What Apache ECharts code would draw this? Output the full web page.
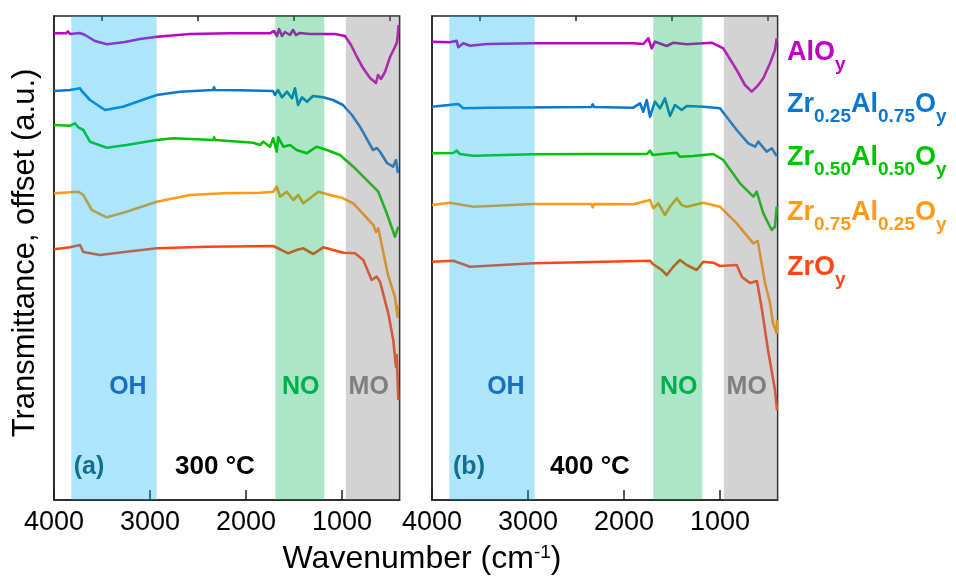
<!DOCTYPE html>
<html>
<head>
<meta charset="utf-8">
<script src="https://cdn.jsdelivr.net/npm/echarts@6/dist/echarts.min.js"></script>
<style>
html, body { margin: 0; padding: 0; background: #fff; }
#chart { width: 956px; height: 583px; }
</style>
</head>
<body>
<div id="chart"></div>
<script>
// wavenumber (cm-1), transmittance with offset (a.u.)
var alo300 = [[4000,46.67],[3875,46.67],[3854,46.85],[3833,46.6],[3729,46.7],[3677,46.5],[3573,45.9],[3448,45.57],[3260,45.8],[3104,46.1],[2927,46.33],[2583,46.6],[2167,46.67],[1750,46.67],[1708,46.9],[1677,46.4],[1656,47.1],[1625,46.4],[1594,46.8],[1542,46.5],[1510,47.0],[1479,46.5],[1438,46.7],[1333,46.6],[1073,46.6],[969,46.4],[906,45.5],[844,44.3],[781,43.2],[708,42.2],[646,41.7],[625,42.5],[594,42.1],[552,42.8],[500,44.3],[448,45.3],[427,45.8],[417,46.7],[411,47.5]];
var zr25_300 = [[4000,40.9],[3833,41.0],[3729,41.17],[3711,40.9],[3625,40.0],[3469,39.0],[3281,39.33],[3104,39.93],[2930,40.5],[2688,40.83],[2344,41.0],[2333,41.27],[2323,41.0],[2063,40.97],[1719,40.9],[1698,40.5],[1667,41.0],[1625,40.27],[1573,40.83],[1521,40.17],[1490,41.17],[1458,39.5],[1417,40.27],[1365,39.83],[1302,40.4],[1198,40.27],[1094,40.0],[990,39.5],[896,38.5],[813,37.33],[677,35.0],[635,35.2],[604,34.83],[531,33.7],[469,33.33],[438,34.0],[417,32.7]];
var zr50_300 = [[4000,37.5],[3833,37.43],[3781,37.67],[3747,37.27],[3695,37.0],[3625,35.83],[3451,35.23],[3243,35.5],[2930,36.0],[2757,36.17],[2341,36.0],[2333,36.27],[2323,36.0],[1924,35.73],[1854,35.5],[1820,35.83],[1750,35.33],[1716,36.17],[1680,34.83],[1664,36.27],[1611,35.33],[1542,35.5],[1472,35.0],[1368,34.67],[1264,35.33],[1159,35.0],[1021,34.5],[882,33.33],[674,31.33],[622,30.83],[604,31.0],[534,28.67],[448,26.33],[413,27.33]];
var zr75_300 = [[4000,30.67],[3747,30.83],[3695,30.5],[3607,29.0],[3451,28.27],[3243,28.83],[2930,29.83],[2583,30.5],[2236,30.67],[1854,30.73],[1716,30.83],[1680,31.33],[1646,30.33],[1576,30.83],[1507,30.0],[1455,30.5],[1403,29.67],[1333,30.17],[1247,30.83],[1125,30.5],[1003,30.23],[882,29.67],[674,27.5],[646,26.8],[622,27.17],[521,22.5],[448,20.3],[422,18.3],[417,19.5]];
var zro_300 = [[4000,25.07],[3833,25.27],[3729,25.5],[3695,24.8],[3521,24.5],[3243,24.83],[2930,25.17],[2409,25.33],[1716,25.4],[1559,24.67],[1472,25.0],[1403,25.17],[1299,24.6],[1195,25.27],[986,24.73],[865,24.67],[778,24.0],[691,22.0],[639,22.33],[604,21.83],[518,18.67],[466,16.0],[438,13.33],[430,14.5],[413,10.0]];

var alo400 = [[4000,45.83],[3813,45.77],[3743,45.93],[3726,45.27],[3674,45.67],[3604,45.43],[3430,45.6],[2945,45.67],[2320,45.67],[1903,45.67],[1799,45.6],[1747,46.17],[1711,45.17],[1677,45.83],[1555,45.4],[1486,45.73],[1347,45.57],[1086,45.73],[966,45.17],[826,43.0],[740,41.5],[670,40.83],[635,41.17],[601,41.5],[549,42.17],[479,43.67],[427,45.0],[409,46.17]];
var zr25_400 = [[4000,39.33],[3726,39.6],[3674,39.17],[3430,39.23],[2340,39.3],[2326,39.57],[2312,39.3],[1903,39.23],[1833,39.67],[1799,38.83],[1764,40.0],[1729,38.33],[1677,39.83],[1625,39.17],[1573,40.17],[1521,38.4],[1469,39.5],[1399,39.0],[1347,39.4],[1174,39.33],[1000,39.17],[826,37.0],[705,35.67],[635,35.33],[601,35.83],[514,34.83],[462,35.17],[409,34.4]];
var zr50_400 = [[4000,34.67],[3780,34.7],[3743,34.93],[3710,34.6],[3570,34.43],[2945,34.57],[2340,34.6],[2326,34.77],[2312,34.6],[1760,34.6],[1729,34.93],[1700,34.5],[1600,34.6],[1451,34.73],[1417,34.33],[1278,34.4],[1070,34.6],[966,34.0],[792,31.67],[653,30.33],[618,30.83],[549,28.67],[462,27.0],[427,27.33],[409,29.33]];
var zr75_400 = [[4000,29.5],[3813,29.73],[3570,29.33],[2945,29.6],[2340,29.6],[2326,29.27],[2312,29.6],[1903,29.57],[1729,30.0],[1695,29.17],[1643,29.67],[1573,28.5],[1521,29.33],[1451,30.17],[1399,29.5],[1347,29.33],[1174,29.73],[1000,29.33],[826,27.67],[653,25.67],[607,25.9],[531,21.7],[479,19.7],[448,17.7],[410,16.7],[405,18.0]];
var zro_400 = [[4000,23.83],[3778,23.93],[3604,23.33],[2945,23.67],[1729,23.93],[1700,23.6],[1607,23.0],[1555,22.5],[1486,23.33],[1417,24.0],[1347,23.5],[1243,23.0],[1174,23.83],[1070,23.73],[1000,23.4],[826,23.5],[771,22.3],[688,21.7],[615,21.9],[562,19.0],[500,15.0],[427,11.0],[406,9.0]];

var sampleNames = ['AlOy', 'Zr0.25Al0.75Oy', 'Zr0.50Al0.50Oy', 'Zr0.75Al0.25Oy', 'ZrOy'];
var majorTicks = [4000, 3000, 2000, 1000];
var minorTicks = [3500, 2500, 1500, 500];
var bandOH = [3820, 2930];
var bandNO = [1695, 1185];
var bandMO = [960, 400];

var lineColors = ['#c000c0', '#0a78d0', '#00c400', '#ff9a14', '#ff4614'];
var font = 'Liberation Sans, Arial, sans-serif';

var chart = echarts.init(document.getElementById('chart'));

function xAxisFor(grid, ticks, len, main) {
	return {
		type: 'value', gridIndex: grid, min: 400, max: 4000, inverse: true,
		axisLine: { show: main, lineStyle: { color: '#222', width: 1.5 } },
		axisTick: { show: true, inside: true, length: len, customValues: ticks, lineStyle: { color: '#222', width: 1.5 } },
		axisLabel: {
			show: main, customValues: majorTicks, margin: 9, color: '#000', fontSize: 27, fontFamily: font,
			formatter: function (v) { return String(v); }
		},
		splitLine: { show: false }
	};
}

function yAxisFor(grid) {
	return {
		type: 'value', gridIndex: grid, min: 0, max: 48.4,
		axisLine: { show: true, lineStyle: { color: '#222', width: 1.5 } },
		axisTick: { show: false }, axisLabel: { show: false }, splitLine: { show: false }
	};
}

function bandSeries(idx) {
	var lbl = function (name, wn, color) {
		return { name: name, coord: [wn, 11.3], label: { color: color } };
	};
	return {
		type: 'line', xAxisIndex: idx, yAxisIndex: idx, data: [], z: 5, silent: true,
		markArea: {
			silent: true, z: 10,
			data: [
				[{ xAxis: bandOH[0], itemStyle: { color: 'rgba(0,176,240,0.32)' } }, { xAxis: bandOH[1] }],
				[{ xAxis: bandNO[0], itemStyle: { color: 'rgba(0,176,80,0.32)' } }, { xAxis: bandNO[1] }],
				[{ xAxis: bandMO[0], itemStyle: { color: 'rgba(128,128,128,0.35)' } }, { xAxis: bandMO[1] }]
			]
		},
		markPoint: {
			silent: true, z: 11, symbol: 'circle', symbolSize: 0,
			label: { show: true, position: 'inside', formatter: '{b}', fontSize: 25, fontWeight: 'bold', fontFamily: font },
			data: [lbl('OH', 3230, '#1a70c0'), lbl('NO', 1430, '#00b050'), lbl('MO', 722, '#7f7f7f')]
		}
	};
}

var panels = [
	[alo300, zr25_300, zr50_300, zr75_300, zro_300],
	[alo400, zr25_400, zr50_400, zr75_400, zro_400]
];

var series = [];
panels.forEach(function (sets, p) {
	sets.forEach(function (d, i) {
		series.push({
			name: sampleNames[i] + (p ? ' 400' : ' 300'), type: 'line',
			xAxisIndex: p, yAxisIndex: p, data: d,
			symbol: 'none', smooth: false, z: 2,
			lineStyle: { width: 2.6, color: lineColors[i], join: 'round' }
		});
	});
	series.push(bandSeries(p));
});

var rich = function (color) {
	return {
		m: { fontSize: 27, fontWeight: 'bold', fill: color, fontFamily: font, lineHeight: 27 },
		s: { fontSize: 19, fontWeight: 'bold', fill: color, fontFamily: font, lineHeight: 19, padding: [24, 0, 0, 0] }
	};
};

var legendRows = [
	'{m|AlO}{s|y}',
	'{m|Zr}{s|0.25}{m|Al}{s|0.75}{m|O}{s|y}',
	'{m|Zr}{s|0.50}{m|Al}{s|0.50}{m|O}{s|y}',
	'{m|Zr}{s|0.75}{m|Al}{s|0.25}{m|O}{s|y}',
	'{m|ZrO}{s|y}'
];
var legendY = [53, 105, 158, 213, 268];

var graphic = [];
legendRows.forEach(function (t, i) {
	graphic.push({
		type: 'text', x: 787, y: legendY[i],
		style: { text: t, rich: rich(lineColors[i]), align: 'left', verticalAlign: 'middle' }
	});
});

graphic.push(
	{ type: 'text', x: 25, y: 253, rotation: Math.PI / 2,
	  style: { text: 'Transmittance, offset (a.u.)', fill: '#000', fontSize: 31, fontFamily: font, align: 'center', verticalAlign: 'middle' } },
	{ type: 'text', x: 422, y: 559,
	  style: { text: '{m|Wavenumber (cm}{p|-1}{m|)}', align: 'center', verticalAlign: 'middle',
	    rich: {
	    	m: { fontSize: 32, fill: '#000', fontFamily: font, lineHeight: 32 },
	    	p: { fontSize: 19, fill: '#000', fontFamily: font, lineHeight: 19, padding: [0, 0, 13, 0] }
	    } } },
	{ type: 'text', x: 89, y: 467, style: { text: '(a)', fill: '#1d4f61', fontSize: 25, fontWeight: 'bold', fontFamily: font, align: 'center', verticalAlign: 'middle' } },
	{ type: 'text', x: 215, y: 467, style: { text: '300 °C', fill: '#000', fontSize: 26, fontWeight: 'bold', fontFamily: font, align: 'center', verticalAlign: 'middle' } },
	{ type: 'text', x: 469, y: 467, style: { text: '(b)', fill: '#1d4f61', fontSize: 25, fontWeight: 'bold', fontFamily: font, align: 'center', verticalAlign: 'middle' } },
	{ type: 'text', x: 590, y: 467, style: { text: '400 °C', fill: '#000', fontSize: 26, fontWeight: 'bold', fontFamily: font, align: 'center', verticalAlign: 'middle' } }
);

var option = {
	animation: false,
	backgroundColor: '#fff',
	grid: [
		{ left: 54, top: 16, width: 345.6, height: 484, show: true, borderColor: '#222', borderWidth: 1.5 },
		{ left: 432, top: 16, width: 345.6, height: 484, show: true, borderColor: '#222', borderWidth: 1.5 }
	],
	xAxis: [
		xAxisFor(0, majorTicks, 10, true),
		xAxisFor(1, majorTicks, 10, true),
		xAxisFor(0, minorTicks, 5, false),
		xAxisFor(1, minorTicks, 5, false)
	],
	yAxis: [yAxisFor(0), yAxisFor(1)],
	series: series,
	graphic: graphic
};

chart.setOption(option);
</script>
</body>
</html>
